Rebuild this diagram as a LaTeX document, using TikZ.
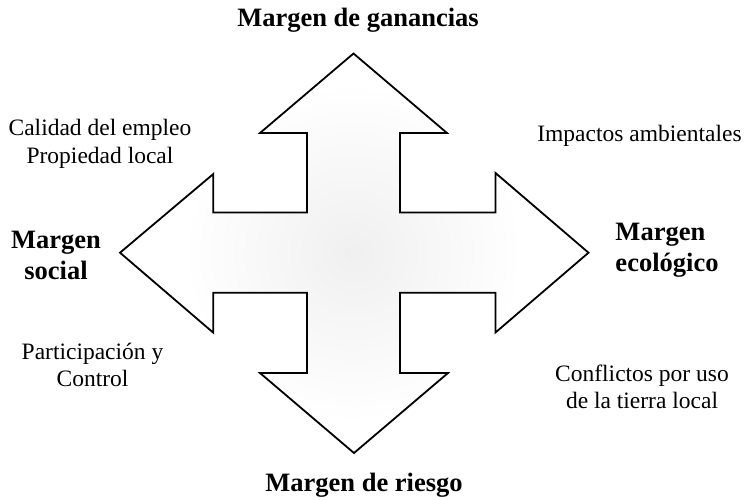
\documentclass[tikz,border=0pt]{standalone}
\usepackage{fontspec}
\setmainfont{Liberation Serif}
\begin{document}
\begin{tikzpicture}[x=1pt,y=-1pt,
  lbl/.style={inner sep=0pt, align=center, font=\fontsize{23.5}{27.5}\selectfont},
  ttl/.style={inner sep=0pt, align=center, font=\fontsize{26.5}{31}\selectfont\bfseries},
  outline/.style={draw=black, line width=1.8pt, line join=miter}]
\useasboundingbox (0,0) rectangle (753,499);
\def\mycrosspath{(353.5,53.5) -- (447,133) -- (400,133) -- (400,212.5) -- (495.5,212.5) -- (495.5,173) -- (588.5,252.7) -- (495.5,332.5) -- (495.5,292.7) -- (400,292.7) -- (400,373) -- (448,373) -- (354,453) -- (260,373) -- (307,373) -- (307,292.7) -- (213.3,292.7) -- (213.3,332.7) -- (120,252.7) -- (213.3,174) -- (213.3,212.5) -- (307,212.5) -- (307,133) -- (260,133) -- cycle}
\begin{scope}
  \clip \mycrosspath;
  \fill[white] (0,0) rectangle (753,499);
  \shade[inner color=black!6, outer color=white] (353.5,252.7) circle (170);
\end{scope}
\draw[outline] \mycrosspath;
% titles
\node[ttl, anchor=base] (top) at (358,26) {Margen de ganancias};
\node[ttl, anchor=base] (bottom) at (364,491) {Margen de riesgo};
\node[ttl, anchor=center] (left) at (56,255) {Margen\\social};
\node[ttl, anchor=center, align=left] (right) at (667,250) {Margen\\ecológico};
% descriptions
\node[lbl, anchor=center] (q1) at (100,144) {Calidad del empleo\\Propiedad local};
\node[lbl, anchor=base] (q2) at (639.5,141) {Impactos ambientales};
\node[lbl, anchor=center] (q3) at (92.5,365) {Participación y\\Control};
\node[lbl, anchor=center] (q4) at (642,387) {Conflictos por uso\\de la tierra local};
\end{tikzpicture}
\end{document}
